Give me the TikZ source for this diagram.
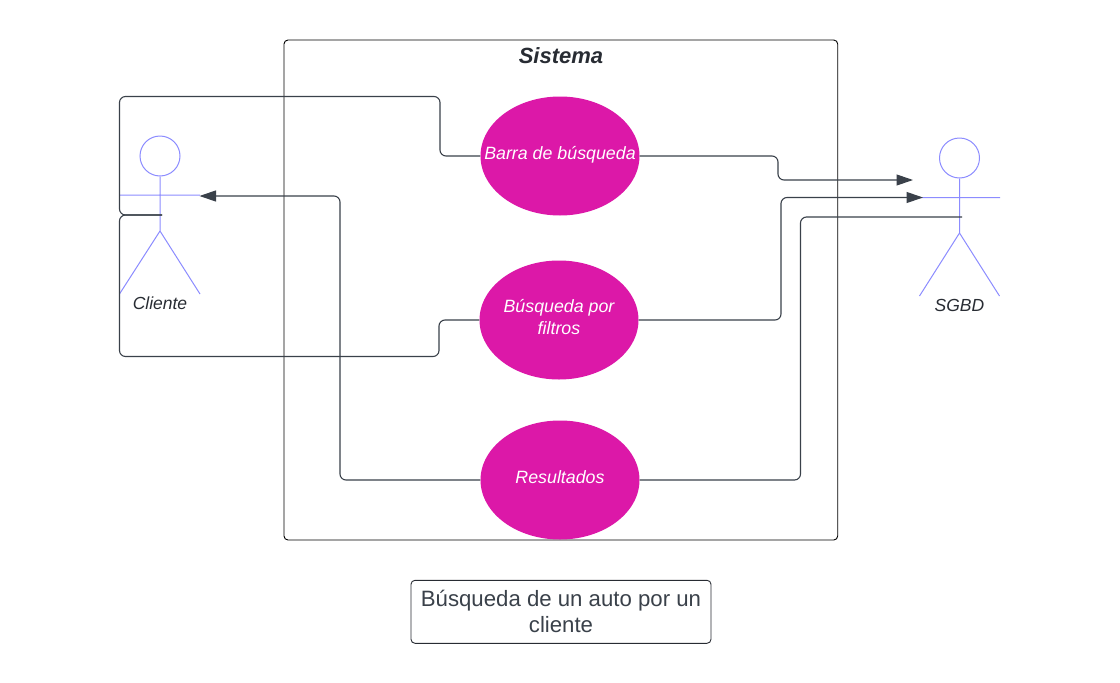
\documentclass[tikz,border=0pt]{standalone}
\usepackage{fontspec}
\setmainfont{Liberation Sans}
\usetikzlibrary{shapes.geometric,arrows.meta}
\definecolor{usecase}{HTML}{DC18A8}
\definecolor{wire}{HTML}{3A414A}
\definecolor{actor}{HTML}{8C8CFF}
\definecolor{ink}{HTML}{282C33}
\tikzset{
  case/.style={ellipse,fill=usecase,draw=none,minimum width=159pt,minimum height=119pt,inner sep=0pt,align=center,text=white,text depth=6.5pt,font=\fontsize{17.8}{21.5}\selectfont\itshape},
  wirepath/.style={draw=wire,line width=1.1pt,rounded corners=6pt},
  arrowed/.style={wirepath,-{Triangle[length=16.5pt,width=11pt]}},
  limb/.style={draw=actor,line width=1pt},
  actorname/.style={text=ink,font=\fontsize{17.5}{20}\selectfont\itshape,inner sep=0pt},
  box/.style={draw=ink,line width=0.9pt,rounded corners=4pt}
}
\begin{document}
\begin{tikzpicture}[x=1pt,y=-1pt]
\useasboundingbox (0,0) rectangle (1120,683);
\fill[white] (0,0) rectangle (1120,683);
% system
\node[box,draw=black,minimum width=553.7pt,minimum height=500pt,inner sep=0pt] (sys) at (560.85,290) {};
\node[font=\fontsize{22}{24}\selectfont\bfseries\itshape,text=ink,inner sep=0pt] (systitle) at (561,56) {Sistema};
% use cases
\node[case] (barra) at (560,156) {\makebox[100pt]{Barra de búsqueda}};
\node[case] (filtros) at (559,320) {Búsqueda por\\filtros};
\node[case] (result) at (560,480) {Resultados};
% actor Cliente
\node[circle,draw=actor,line width=1pt,minimum size=40pt,inner sep=0pt] (chead) at (160,156) {};
\coordinate (chip) at (160,231);
\coordinate (carmL) at (119.5,195);
\coordinate (carmR) at (200,195);
\coordinate (ctip) at (199.5,196);
\coordinate (clegL) at (119.5,294);
\coordinate (clegR) at (200,294);
\coordinate (cmid) at (162,215);
\draw[limb] (chead.south) -- (chip) (carmL) -- (carmR) (clegL) -- (chip) -- (clegR);
\node[actorname] (clabel) at (160,303) {Cliente};
% actor SGBD
\node[circle,draw=actor,line width=1pt,minimum size=40pt,inner sep=0pt] (shead) at (959.5,158) {};
\coordinate (ship) at (959.5,233);
\coordinate (sarmL) at (919.5,197.5);
\coordinate (sarmR) at (1000,197.5);
\coordinate (stip) at (923,197.5);
\coordinate (slegL) at (919.5,296);
\coordinate (slegR) at (999.5,296);
\coordinate (smid) at (962,217);
\coordinate (sfree) at (913,180);
\draw[limb] (shead.south) -- (ship) (sarmL) -- (sarmR) (slegL) -- (ship) -- (slegR);
\node[actorname] (slabel) at (959.5,305.5) {SGBD};
% connectors
\draw[wirepath] (cmid) -- (119.5,215) -- (119.5,96.5) -- (440,96.5) -- (440,156) -- (barra.west);
\draw[wirepath] (cmid) -- (119.5,215) -- (119.5,356.5) -- (439,356.5) -- (439,320) -- (filtros.west);
\draw[arrowed] (result.west) -- (340,480) -- (340,196) -- (ctip);
\draw[arrowed] (barra.east) -- (778,156) -- (778,180) -- (sfree);
\draw[arrowed] (filtros.east) -- (781,320) -- (781,197.5) -- (stip);
\draw[wirepath] (result.east) -- (800.5,480) -- (800.5,217) -- (smid);
% caption
\node[box,minimum width=300pt,minimum height=63pt,inner sep=0pt,align=center,text=wire,font=\fontsize{22.2}{26}\selectfont] (caption) at (561,611.8) {Búsqueda de un auto por un\\cliente};
\end{tikzpicture}
\end{document}
